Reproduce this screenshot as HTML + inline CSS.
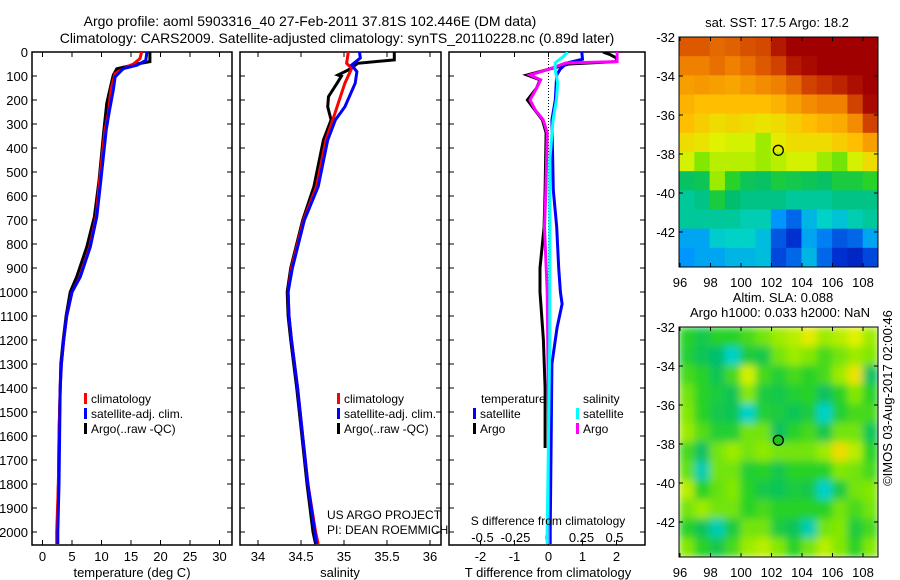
<!DOCTYPE html>
<html><head><meta charset="utf-8">
<style>
body{margin:0;background:#fff;}
svg{display:block;font-family:"Liberation Sans",Arial,sans-serif;}
text{fill:#000;}
</style></head>
<body>
<svg id="c" width="900" height="580" viewBox="0 0 900 580" xmlns="http://www.w3.org/2000/svg">
<defs>
<clipPath id="clipMap1"><rect x="679" y="37" width="199" height="230"/></clipPath>
<clipPath id="clipMap2"><rect x="679" y="327" width="199" height="230"/></clipPath>
<clipPath id="clipP1"><rect x="32" y="52" width="200" height="493"/></clipPath>
<clipPath id="clipP2"><rect x="240" y="52" width="201" height="493"/></clipPath>
<clipPath id="clipP3"><rect x="449" y="52" width="196" height="493"/></clipPath>
<filter id="blur" x="0" y="0" width="1" height="1"><feGaussianBlur stdDeviation="4" edgeMode="duplicate"/></filter>
</defs>
<text x="310" y="26" font-size="14" text-anchor="middle">Argo profile: aoml 5903316_40 27-Feb-2011 37.81S 102.446E (DM data)</text>
<text x="337" y="43" font-size="14" text-anchor="middle">Climatology: CARS2009. Satellite-adjusted climatology: synTS_20110228.nc (0.89d later)</text>
<g id="root"></g>
</svg>
<script>
// ---------- Temperature profiles ----------
const argoTDepth = [0,40,50,70,96,158,213,325,533,686,812,937,1000,1100,1200,1300,1400,1600,1800,2000,2050];
const argoT      = [18.2,18.2,16.0,12.6,12.0,11.4,10.9,10.4,9.6,8.8,7.5,5.8,4.7,4.0,3.5,3.1,3.0,2.8,2.7,2.5,2.5];
const climTDepth = [0,28,50,62,90,158,250,325,533,686,812,937,1000,1100,1200,1300,1400,1600,1800,2000,2050];
const climT      = [16.8,16.5,15.4,14.3,12.3,11.6,11.2,10.6,9.7,9.1,8.0,6.3,5.0,4.1,3.6,3.2,3.0,2.8,2.7,2.4,2.4];
const satTDepth  = [0,35,55,69,104,158,250,325,533,686,812,937,1000,1100,1200,1300,1400,1600,1800,2000,2050];
const satT       = [17.7,17.5,16.0,13.7,12.3,12.0,11.3,10.8,9.9,9.2,8.1,6.4,5.0,4.1,3.6,3.2,3.0,2.9,2.8,2.6,2.6];
// ---------- Salinity profiles ----------
const argoSDepth = [0,33,47,75,96,101,130,186,228,283,367,561,700,900,1000,1100,1200,1400,1600,1800,2000,2050];
const argoS      = [35.585,35.585,35.16,35.05,34.93,34.97,34.92,34.82,34.81,34.85,34.76,34.65,34.52,34.38,34.34,34.35,34.38,34.45,34.51,34.57,34.64,34.67];
const climSDepth = [0,47,68,130,228,283,367,561,700,900,1000,1100,1200,1400,1600,1800,2000,2050];
const climS      = [35.05,35.03,35.09,35.01,34.92,34.87,34.79,34.68,34.53,34.39,34.35,34.36,34.39,34.46,34.52,34.58,34.67,34.70];
const satSDepth  = [0,25,54,82,130,228,283,367,561,700,900,1000,1100,1200,1400,1600,1800,2000,2050];
const satS       = [35.18,35.19,35.09,35.15,35.13,35.01,34.90,34.81,34.70,34.54,34.40,34.35,34.36,34.39,34.46,34.52,34.58,34.66,34.68];
// ---------- Differences ----------
const dTArgoDepth = [0,10,25,40,50,72,96,116,150,200,242,283,337,575,729,900,1000,1200,1400,1500,1650];
const dTArgo      = [1.6,1.8,2.0,2.0,0.6,0.0,-0.63,-0.25,-0.35,-0.62,-0.4,-0.18,-0.07,-0.1,-0.13,-0.25,-0.25,-0.15,-0.1,-0.1,-0.1];
const dTSatDepth  = [0,30,46,72,96,200,283,575,729,900,1000,1050,1150,1300,1600,2000,2050];
const dTSat       = [0.98,1.0,0.54,0.34,0.24,0.2,0.1,0.14,0.24,0.3,0.35,0.4,0.25,0.1,0.08,0.05,0.05];
const dSArgoDepth = [0,40,46,72,96,116,150,200,242,283,337,575,729,1000,1500,2000,2050];
const dSArgo      = [0.52,0.52,0.13,0.0,-0.14,-0.06,-0.09,-0.14,-0.1,-0.04,-0.01,-0.02,-0.03,-0.01,0.0,0.0,0.0];
const dSSatDepth  = [0,20,46,72,130,200,283,450,800,1200,1600,2000,2050];
const dSSat       = [0.146,0.11,0.05,0.05,0.07,0.06,0.035,0.01,0.01,0.01,0.0,-0.01,-0.01];
// ---------- Ticks ----------
const depthTicks = [0,100,200,300,400,500,600,700,800,900,1000,1100,1200,1300,1400,1500,1600,1700,1800,1900,2000];
const tempTicks  = [0,5,10,15,20,25,30];
const salTicks   = [34,34.5,35,35.5,36];
const tdiffTicks = [-2,-1,0,1,2];
const sdiffTicks = [-0.5,-0.25,0,0.25,0.5];
const sdiffLabels= ["-0.5","-0.25","0","0.25","0.5"];
const latTicks   = [-32,-34,-36,-38,-40,-42];
const lonTicks   = [96,98,100,102,104,106,108];
// ---------- Maps (rows lat -32..-43, cols lon 96..108), colour index 0..1 ----------
const sstGrid = [
[.85,.85,.83,.84,.86,.87,.95,1,1,1,1,1,1],
[.80,.80,.82,.80,.82,.85,.88,.95,.98,1,1,1,1],
[.75,.76,.75,.74,.76,.78,.80,.83,.88,.90,.93,.97,1],
[.72,.70,.70,.70,.70,.70,.72,.75,.78,.80,.80,.88,.98],
[.70,.68,.66,.67,.66,.65,.66,.68,.70,.72,.73,.78,.88],
[.66,.65,.63,.62,.62,.58,.64,.66,.66,.66,.68,.70,.75],
[.62,.56,.60,.60,.60,.58,.60,.62,.62,.58,.55,.62,.66],
[.45,.46,.58,.50,.46,.45,.48,.47,.46,.45,.48,.48,.50],
[.40,.42,.48,.44,.42,.42,.42,.40,.40,.40,.42,.42,.42],
[.40,.40,.40,.40,.38,.38,.28,.22,.32,.36,.34,.38,.40],
[.30,.30,.35,.36,.36,.33,.20,.15,.30,.25,.20,.22,.30],
[.28,.30,.30,.32,.32,.33,.18,.22,.32,.22,.15,.12,.18]];
const slaGrid = [
[.50,.47,.50,.50,.52,.55,.58,.60,.64,.58,.60,.63,.58],
[.49,.46,.44,.36,.48,.47,.55,.58,.56,.52,.55,.58,.56],
[.52,.50,.46,.52,.62,.52,.49,.52,.50,.52,.58,.65,.45],
[.55,.50,.48,.46,.56,.48,.47,.49,.50,.45,.50,.56,.50],
[.56,.50,.47,.46,.36,.49,.48,.46,.48,.36,.49,.52,.52],
[.58,.53,.49,.49,.55,.55,.45,.50,.52,.47,.55,.55,.46],
[.52,.45,.55,.58,.55,.57,.55,.55,.55,.58,.66,.60,.50],
[.54,.38,.55,.55,.49,.50,.47,.50,.50,.50,.56,.55,.52],
[.60,.50,.54,.56,.50,.47,.46,.48,.47,.36,.48,.55,.56],
[.55,.58,.55,.55,.50,.52,.50,.50,.50,.50,.55,.52,.55],
[.50,.46,.38,.48,.55,.55,.48,.46,.38,.55,.56,.48,.52],
[.56,.50,.47,.52,.58,.60,.56,.50,.55,.60,.56,.50,.56]];
const argoLon = 102.446, argoLat = -37.81;

const NS="http://www.w3.org/2000/svg";
const root=document.getElementById('root');
function mk(tag,attrs,parent){const e=document.createElementNS(NS,tag);for(const k in attrs)e.setAttribute(k,attrs[k]);(parent||root).appendChild(e);return e;}
function txt(x,y,s,size,anchor,parent){const t=mk('text',{x:x,y:y,'font-size':size,'text-anchor':anchor||'middle'},parent);t.textContent=s;return t;}

const yD=d=>52+d*0.24;
const xT=v=>42.5+v*5.9;
const xS=v=>258+(v-34)*86;
const xDT=v=>548.5+v*34;
const xDS=v=>548.5+v*132;

function frame(x0,x1,name){
  const r=mk('rect',{x:x0,y:52,width:x1-x0,height:493,fill:'none',stroke:'#000','stroke-width':1.5});
  
  
  depthTicks.forEach(d=>{mk('line',{x1:x0,x2:x0+5,y1:yD(d),y2:yD(d),stroke:'#000'});mk('line',{x1:x1-5,x2:x1,y1:yD(d),y2:yD(d),stroke:'#000'});});
}
function xticks(vals,fx,labels,y,name){
  const g=mk('g',{});
  
  
  vals.forEach((v,i)=>{const x=fx(v);mk('line',{x1:x,x2:x,y1:545,y2:540,stroke:'#000'},g);mk('line',{x1:x,x2:x,y1:52,y2:57,stroke:'#000'},g);
    if(y)txt(x,y,labels?labels[i]:String(v),13,'middle',g);});
}
function series(ds,vs,fx,color,clip,name,w){
  const pts=ds.map((d,i)=>fx(vs[i]).toFixed(1)+','+yD(d).toFixed(1)).join(' ');
  const p=mk('polyline',{points:pts,fill:'none',stroke:color,'stroke-width':w||3,'stroke-linejoin':'miter','clip-path':'url(#'+clip+')'});
  
  
}
function legendRow(x,y,color,label,name){
  const g=mk('g',{});
  
  
  mk('rect',{x:x,y:y-10,width:3,height:11,fill:color},g);
  txt(x+7,y,label,12,'start',g);
}

// Panel 1
frame(32,232,'temperature-panel');
const yl=mk('g',{});


depthTicks.forEach(d=>txt(28,yD(d)+5,String(d),13,'end',yl));
xticks(tempTicks,xT,null,561,'temperature-x-ticks');
series(argoTDepth,argoT,xT,'#000','clipP1','argo-temperature-line');
series(climTDepth,climT,xT,'#ff0000','clipP1','climatology-temperature-line');
series(satTDepth,satT,xT,'#0000ff','clipP1','satellite-temperature-line');
txt(132,577,'temperature (deg C)',13,'middle');
legendRow(84,403,'#ff0000','climatology','legend-climatology-1');
legendRow(84,418,'#0000ff','satellite-adj. clim.','legend-satellite-1');
legendRow(84,433,'#000','Argo(..raw -QC)','legend-argo-1');

// Panel 2
frame(240,441,'salinity-panel');
xticks(salTicks,xS,null,561,'salinity-x-ticks');
series(argoSDepth,argoS,xS,'#000','clipP2','argo-salinity-line');
series(climSDepth,climS,xS,'#ff0000','clipP2','climatology-salinity-line');
series(satSDepth,satS,xS,'#0000ff','clipP2','satellite-salinity-line');
txt(340,577,'salinity',13,'middle');
legendRow(337,403,'#ff0000','climatology','legend-climatology-2');
legendRow(337,418,'#0000ff','satellite-adj. clim.','legend-satellite-2');
legendRow(337,433,'#000','Argo(..raw -QC)','legend-argo-2');
txt(327,519,'US ARGO PROJECT',12,'start');
txt(327,534,'PI: DEAN ROEMMICH',12,'start');

// Panel 3
frame(449,645,'difference-panel');
mk('line',{x1:548.5,x2:548.5,y1:52,y2:545,stroke:'#000','stroke-dasharray':'1,2','stroke-width':1});
xticks(tdiffTicks,xDT,null,561,'t-difference-ticks');
const sl=mk('g',{});


sdiffTicks.forEach((v,i)=>txt(xDS(v),542,sdiffLabels[i],13,'middle',sl));
series(dTArgoDepth,dTArgo,xDT,'#000','clipP3','argo-t-difference-line');
series(dTSatDepth,dTSat,xDT,'#0000ff','clipP3','satellite-t-difference-line');
series(dSArgoDepth,dSArgo,xDS,'#ff00ff','clipP3','argo-s-difference-line');
series(dSSatDepth,dSSat,xDS,'#00ffff','clipP3','satellite-s-difference-line');
txt(548,525,'S difference from climatology',12,'middle');
txt(548,577,'T difference from climatology',13,'middle');
txt(481,403,'temperature',12,'start');
txt(583,403,'salinity',12,'start');
legendRow(473,418,'#0000ff','satellite','legend-t-satellite');
legendRow(473,433,'#000','Argo','legend-t-argo');
legendRow(576,418,'#00ffff','satellite','legend-s-satellite');
legendRow(576,433,'#ff00ff','Argo','legend-s-argo');

// Maps
const stops=[[0,[0,0,143]],[0.15,[0,48,208]],[0.28,[0,150,255]],[0.36,[0,210,200]],[0.44,[0,190,110]],[0.5,[40,210,40]],[0.56,[130,232,0]],[0.63,[225,242,0]],[0.7,[255,190,0]],[0.8,[240,128,0]],[0.9,[200,50,0]],[1,[160,0,0]]];
function cmap(v){for(let i=1;i<stops.length;i++){if(v<=stops[i][0]){const a=stops[i-1],b=stops[i],t=(v-a[0])/(b[0]-a[0]);return 'rgb('+a[1].map((c,k)=>Math.round(c+(b[1][k]-c)*t)).join(',')+')';}}return 'rgb(160,0,0)';}
const mX=lon=>680+(lon-96)*15.25;
function drawMap(grid,y0,clip,name,blur){
  const mY=lat=>y0+(-32-lat)*19.5;
  const g=mk('g',{'clip-path':'url(#'+clip+')'});
  
  
  const inner=mk('g',blur?{filter:'url(#blur)'}:{},g);
  const rows=grid.length,cols=grid[0].length,cw=199/cols,rh=230/rows;
  grid.forEach((row,r)=>row.forEach((v,c)=>{mk('rect',{x:679+c*cw,y:y0+r*rh,width:cw+0.6,height:rh+0.6,fill:cmap(v)},inner);}));
  mk('rect',{x:679,y:y0,width:199,height:230,fill:'none',stroke:'#000'});
  latTicks.forEach(l=>{mk('line',{x1:679,x2:683,y1:mY(l),y2:mY(l),stroke:'#000'});mk('line',{x1:874,x2:878,y1:mY(l),y2:mY(l),stroke:'#000'});txt(675,mY(l)+5,String(l),13,'end');});
  lonTicks.forEach(l=>{mk('line',{x1:mX(l),x2:mX(l),y1:y0+230,y2:y0+226,stroke:'#000'});mk('line',{x1:mX(l),x2:mX(l),y1:y0,y2:y0+4,stroke:'#000'});txt(mX(l),y0+250,String(l),13,'middle');});
  return mY;
}
const mY1=drawMap(sstGrid,37,'clipMap1','sst-map',false);
const c1=mk('circle',{cx:mX(argoLon),cy:mY1(argoLat),r:5,fill:'none',stroke:'#000','stroke-width':1.3});


const mY2=drawMap(slaGrid,327,'clipMap2','sla-map',true);
const c2=mk('circle',{cx:mX(argoLon),cy:mY2(argoLat),r:5,fill:'#20c020',stroke:'#000','stroke-width':1.3});


txt(777,27,'sat. SST: 17.5 Argo: 18.2',13,'middle');
txt(783,302,'Altim. SLA: 0.088',13,'middle');
txt(780,317,'Argo h1000: 0.033 h2000: NaN',13,'middle');
const cp=txt(0,0,'©IMOS 03-Aug-2017 02:00:46',13,'middle');
cp.setAttribute('transform','translate(892,398) rotate(-90)');

</script>
</body></html>
